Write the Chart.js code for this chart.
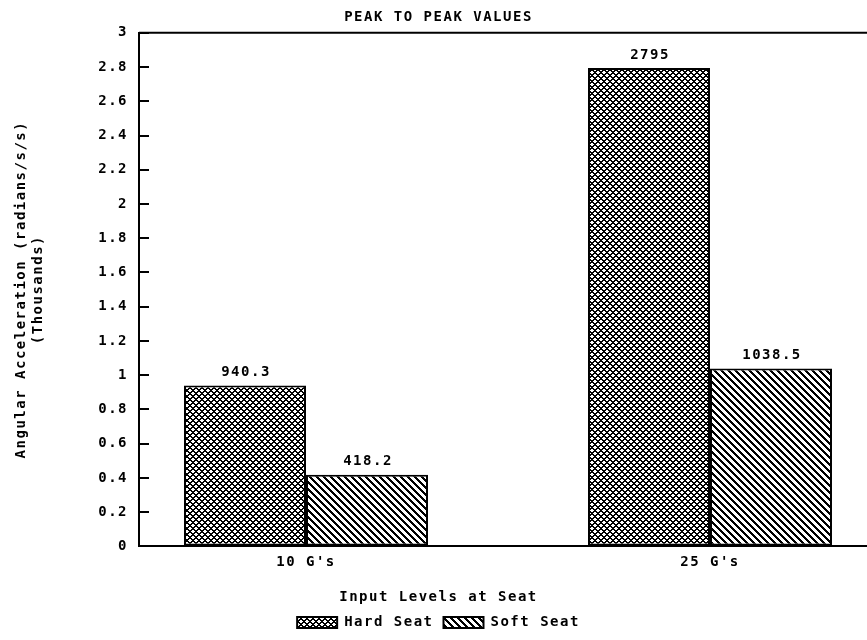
<!DOCTYPE html>
<html>
<head>
<meta charset="utf-8">
<script src="https://cdn.jsdelivr.net/npm/chart.js@4/dist/chart.umd.min.js"></script>
<style>
html, body { margin: 0; padding: 0; background: #fff; overflow: hidden; width: 867px; height: 640px; }
canvas { display: block; }
</style>
</head>
<body>
<canvas id="c" width="946" height="640"></canvas>
<script>
// ---- data ----
const categories = ["10 G's", "25 G's"];
const seriesNames = ["Hard Seat", "Soft Seat"];
const hardSeat = [940.3, 2795];
const softSeat = [418.2, 1038.5];
const yTickLabels = ['0','0.2','0.4','0.6','0.8','1','1.2','1.4','1.6','1.8','2','2.2','2.4','2.6','2.8','3'];
const chartTitle = 'PEAK TO PEAK VALUES';
const xTitle = 'Input Levels at Seat';
const yTitle = ['Angular Acceleration (radians/s/s)', '(Thousands)'];

// ---- patterns ----
function makePattern(size, isBlack) {
  const c = document.createElement('canvas');
  c.width = size; c.height = size;
  const g = c.getContext('2d');
  const img = g.createImageData(size, size);
  for (let y = 0; y < size; y++) {
    for (let x = 0; x < size; x++) {
      const k = (y * size + x) * 4;
      const v = isBlack(x, y) ? 0 : 255;
      img.data[k] = v; img.data[k + 1] = v; img.data[k + 2] = v; img.data[k + 3] = 255;
    }
  }
  g.putImageData(img, 0, 0);
  return g.createPattern(c, 'repeat');
}
const mod = (a, n) => ((a % n) + n) % n;
const crossPat = makePattern(6, (x, y) => mod(x - y, 6) < 2 || mod(x + y, 6) < 2);
const diagPat = makePattern(7, (x, y) => mod(x - y, 7) < 3);

const FONT = "'DejaVu Sans Mono', 'Liberation Mono', monospace";
const FS = 14;
const LS = '1.5px';

const spacingPlugin = {
  id: 'spacing',
  beforeLayout(chart) { chart.ctx.letterSpacing = LS; },
  beforeDraw(chart) { chart.ctx.letterSpacing = LS; }
};

const framePlugin = {
  id: 'frame',
  afterDraw(chart) {
    const {ctx, chartArea} = chart;
    ctx.save();
    ctx.strokeStyle = '#000';
    ctx.lineWidth = 2;
    ctx.beginPath();
    ctx.moveTo(chartArea.left, chartArea.top);
    ctx.lineTo(chartArea.right, chartArea.top);
    ctx.stroke();
    ctx.restore();
  }
};

const valueLabels = {
  id: 'valueLabels',
  afterDatasetsDraw(chart) {
    const ctx = chart.ctx;
    ctx.save();
    ctx.letterSpacing = LS;
    ctx.font = 'bold ' + FS + 'px ' + FONT;
    ctx.fillStyle = '#000';
    ctx.textAlign = 'center';
    ctx.textBaseline = 'bottom';
    chart.data.datasets.forEach((ds, di) => {
      const meta = chart.getDatasetMeta(di);
      meta.data.forEach((el, i) => {
        ctx.fillText(String(ds.raw[i]), el.x + 1, el.y - 6);
      });
    });
    ctx.restore();
  }
};

const font = { family: FONT, size: FS, weight: 'bold' };

new Chart(document.getElementById('c'), {
  type: 'bar',
  data: {
    datasets: [
      {
        label: seriesNames[0],
        raw: hardSeat,
        data: hardSeat.map((v, i) => ({x: i, y: v})),
        backgroundColor: crossPat,
        borderColor: '#000',
        borderWidth: 2,
        borderSkipped: false
      },
      {
        label: seriesNames[1],
        raw: softSeat,
        data: softSeat.map((v, i) => ({x: i, y: v})),
        backgroundColor: diagPat,
        borderColor: '#000',
        borderWidth: 2,
        borderSkipped: false
      }
    ]
  },
  options: {
    responsive: false,
    animation: false,
    devicePixelRatio: 1,
    categoryPercentage: 0.604,
    barPercentage: 1,
    layout: { padding: { left: 0, right: 69, top: 0, bottom: 0.5 } },
    scales: {
      x: {
        type: 'linear',
        offset: false,
        min: -0.4134,
        max: 1.4134,
        afterBuildTicks(scale) { scale.ticks = categories.map((c, i) => ({value: i})); },
        ticks: {
          callback: (v) => categories[v],
          font: font,
          color: '#000',
          padding: 8,
          maxRotation: 0,
          autoSkip: false
        },
        grid: { display: false, drawTicks: false, tickLength: 0, offset: false },
        border: { display: true, color: '#000', width: 2 }
      },
      y: {
        min: 0,
        max: 3000,
        ticks: {
          stepSize: 200,
          callback: (v, i) => yTickLabels[i],
          font: font,
          color: '#000',
          padding: 21,
          autoSkip: false
        },
        afterFit(scale) { scale.width = 139; },
        grid: { drawOnChartArea: false, drawTicks: true, tickLength: -10, color: '#000', lineWidth: 2 },
        border: { display: true, color: '#000', width: 2 },
        title: {
          display: true,
          text: yTitle,
          font: font,
          color: '#000',
          padding: { top: 13, bottom: 0 }
        }
      }
    },
    plugins: {
      title: {
        display: true,
        text: chartTitle,
        font: font,
        color: '#000',
        padding: { top: 9, bottom: 7 }
      },
      subtitle: {
        display: true,
        position: 'bottom',
        text: xTitle,
        font: font,
        color: '#000',
        padding: { top: 9.5, bottom: 0 }
      },
      legend: {
        display: true,
        position: 'bottom',
        weight: 2500,
        labels: {
          boxWidth: 40,
          boxHeight: 11,
          padding: 10,
          color: '#000',
          font: font
        }
      },
      tooltip: { enabled: false }
    }
  },
  plugins: [spacingPlugin, valueLabels, framePlugin]
});
</script>
</body>
</html>
